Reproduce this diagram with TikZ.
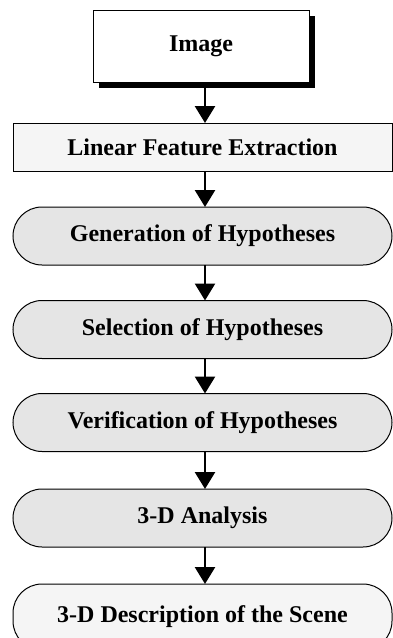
\documentclass[tikz,border=0pt]{standalone}
\usepackage{fontspec}
\setmainfont{Liberation Serif}
\usetikzlibrary{arrows.meta,shadows}

\begin{document}
\begin{tikzpicture}[x=1pt,y=1pt,
    stage/.style={draw,line width=1pt,inner sep=0pt,outer sep=0pt,
        font=\fontsize{24}{28}\selectfont\bfseries,
        minimum width=379pt},
    flat/.style={stage,fill=black!4,minimum height=48pt},
    pill/.style={stage,fill=black!10,minimum height=58pt,rounded corners=29pt},
    flow/.style={line width=2.6pt,-{Triangle[width=20pt,length=17pt]}}]
\useasboundingbox (0,0) rectangle (393,-638);

\node[stage,fill=white,minimum width=216pt,minimum height=72pt,
      drop shadow={shadow xshift=6pt,shadow yshift=-6pt,fill=black,opacity=1}]
      (img) at (201,-46) {Image};
\node[flat] (lfe) at (202.5,-147) {Linear Feature Extraction};
\node[pill] (gen) at (202.5,-236) {Generation of Hypotheses};
\node[pill] (sel) at (202.5,-329.5) {Selection of Hypotheses};
\node[pill] (ver) at (202.5,-422.5) {Verification of Hypotheses};
\node[pill] (ana) at (202.5,-518) {3-D Analysis};
\node[pill,fill=black!4,minimum height=66pt] (desc) at (202.5,-617)
      {\raisebox{3pt}{3-D Description of the Scene}};

\draw[flow] ([xshift=4pt,yshift=-6pt]img.south) -- ([xshift=2.5pt]lfe.north);
\draw[flow] ([xshift=2.5pt]lfe.south) -- ([xshift=2.5pt]gen.north);
\draw[flow] ([xshift=2.5pt]gen.south) -- ([xshift=2.5pt]sel.north);
\draw[flow] ([xshift=2.5pt]sel.south) -- ([xshift=2.5pt]ver.north);
\draw[flow] ([xshift=2.5pt]ver.south) -- ([xshift=2.5pt]ana.north);
\draw[flow] ([xshift=2.5pt]ana.south) -- ([xshift=2.5pt]desc.north);
\end{tikzpicture}
\end{document}
